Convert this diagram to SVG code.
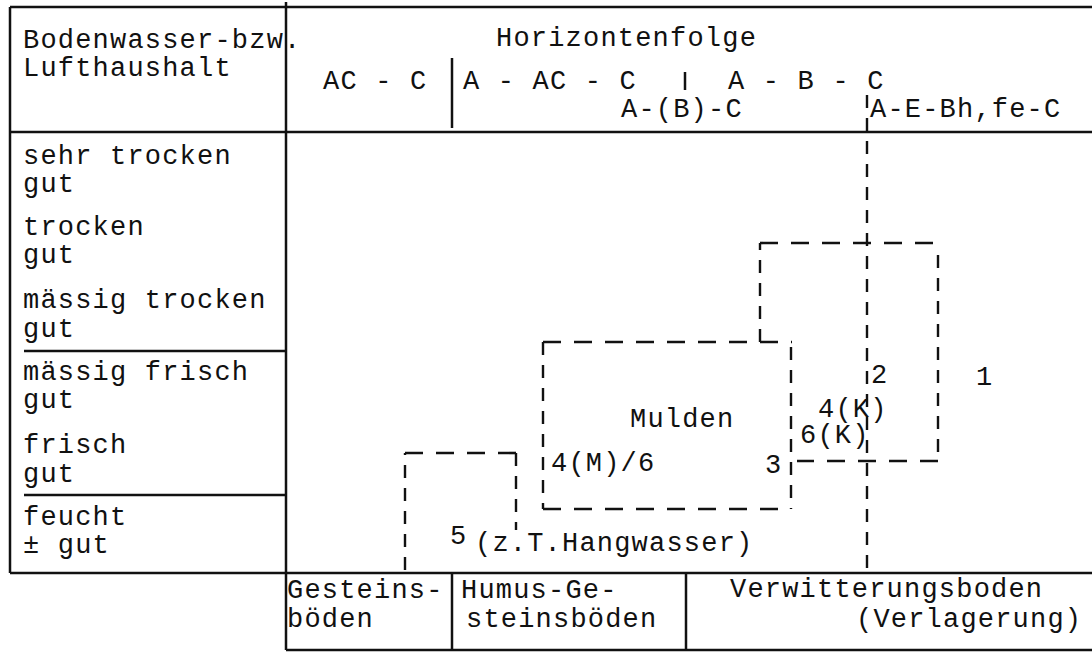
<svg xmlns="http://www.w3.org/2000/svg" width="1092" height="652" viewBox="0 0 1092 652">
<style>
  .t { font-family: "Liberation Mono", "DejaVu Sans Mono", monospace; font-size: 27px; letter-spacing: 1.2px; fill: #111; }
  .s { stroke: #111; stroke-width: 2.5; fill: none; }
  .dh { stroke: #111; stroke-width: 2.6; fill: none; stroke-dasharray: 18 13; }
  .dv { stroke: #111; stroke-width: 2.4; fill: none; stroke-dasharray: 13 10; }
</style>
<rect width="1092" height="652" fill="#fff"/>

<g id="table">
  <line class="s" x1="10" y1="7" x2="1092" y2="7"/>
  <line class="s" x1="10" y1="132" x2="1092" y2="132"/>
  <line class="s" x1="10" y1="573" x2="1092" y2="573"/>
  <line class="s" x1="286" y1="650" x2="1092" y2="650"/>
  <line class="s" x1="10" y1="7" x2="10" y2="573"/>
  <line class="s" x1="286" y1="2" x2="286" y2="650"/>
  <line class="s" x1="452" y1="58" x2="452" y2="128"/>
  <line class="s" x1="685" y1="72" x2="685" y2="90"/>
  <line class="s" x1="24" y1="351" x2="286" y2="351"/>
  <line class="s" x1="24" y1="495" x2="286" y2="495"/>
  <line class="s" x1="452" y1="573" x2="452" y2="650"/>
  <line class="s" x1="686" y1="573" x2="686" y2="650"/>
</g>

<g id="header">
  <text class="t" x="23" y="48">Bodenwasser-bzw.</text>
  <text class="t" x="23" y="76">Lufthaushalt</text>
  <text class="t" x="496" y="46">Horizontenfolge</text>
  <text class="t" x="323" y="89">AC - C</text>
  <text class="t" x="463" y="89">A - AC - C</text>
  <text class="t" x="728" y="89">A - B - C</text>
  <text class="t" x="621" y="117">A-(B)-C</text>
  <text class="t" x="870" y="117">A-E-Bh,fe-C</text>
</g>

<g id="moisture-rows">
  <text class="t" x="23" y="164">sehr trocken</text>
  <text class="t" x="23" y="192">gut</text>
  <text class="t" x="23" y="235">trocken</text>
  <text class="t" x="23" y="263">gut</text>
  <text class="t" x="23" y="308">mässig trocken</text>
  <text class="t" x="23" y="337">gut</text>
  <text class="t" x="23" y="380">mässig frisch</text>
  <text class="t" x="23" y="408">gut</text>
  <text class="t" x="23" y="453">frisch</text>
  <text class="t" x="23" y="482">gut</text>
  <text class="t" x="23" y="525">feucht</text>
  <text class="t" x="23" y="553">± gut</text>
</g>

<g id="soil-types">
  <text class="t" x="287" y="598">Gesteins-</text>
  <text class="t" x="287" y="627">böden</text>
  <text class="t" x="461" y="598">Humus-Ge-</text>
  <text class="t" x="466" y="627">steinsböden</text>
  <text class="t" x="730" y="597">Verwitterungsboden</text>
  <text class="t" x="856" y="627">(Verlagerung)</text>
</g>

<g id="connectors">
  <line class="dv" x1="867" y1="95" x2="867" y2="572"/>
</g>

<g id="region-1">
  <line class="dv" x1="760" y1="342" x2="760" y2="243"/>
  <line class="dh" x1="760" y1="243" x2="938" y2="243"/>
  <line class="dv" x1="938" y1="255" x2="938" y2="461"/>
  <line class="dh" x1="938" y1="461" x2="797" y2="461"/>
  <text class="t" x="976" y="385">1</text>
  <text class="t" x="871" y="383">2</text>
  <text class="t" x="818" y="417">4(K)</text>
  <text class="t" x="800" y="443">6(K)</text>
</g>

<g id="region-mulden">
  <line class="dh" x1="543" y1="342" x2="792" y2="342"/>
  <line class="dv" x1="543" y1="342" x2="543" y2="509"/>
  <line class="dv" x1="791" y1="347" x2="791" y2="509"/>
  <line class="dh" x1="543" y1="509" x2="791" y2="509"/>
  <text class="t" x="630" y="427">Mulden</text>
  <text class="t" x="551" y="471">4(M)/6</text>
  <text class="t" x="765" y="473">3</text>
</g>

<g id="region-5">
  <line class="dv" x1="405" y1="570" x2="405" y2="453"/>
  <line class="dh" x1="405" y1="453" x2="516" y2="453"/>
  <line class="dv" x1="516" y1="453" x2="516" y2="530"/>
  <text class="t" x="450" y="544">5</text>
  <text class="t" x="475" y="551">(z.T.Hangwasser)</text>
</g>
</svg>
